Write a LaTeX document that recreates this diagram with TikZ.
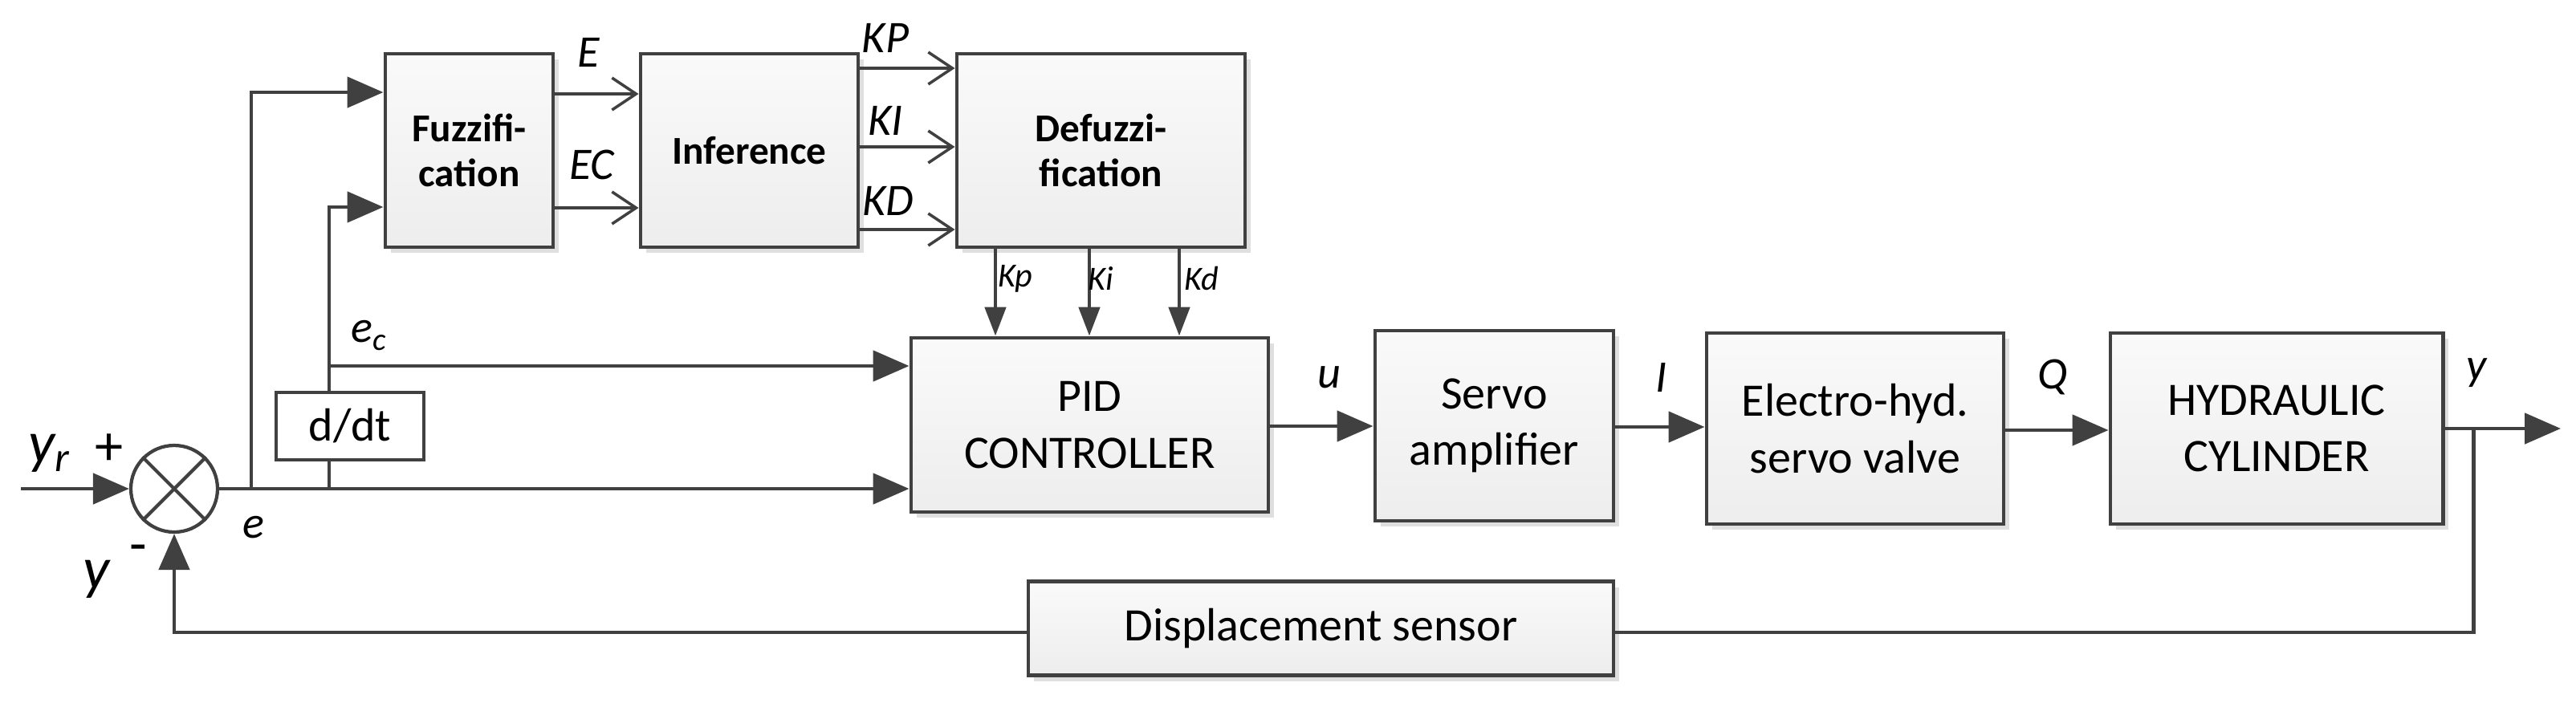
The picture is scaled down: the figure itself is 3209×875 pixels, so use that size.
\documentclass[tikz,border=0pt]{standalone}
\usepackage{fontspec}
\setmainfont{Carlito}
\usetikzlibrary{arrows.meta,shadows}
\definecolor{ln}{HTML}{404040}
\begin{document}
\begin{tikzpicture}[x=0.01cm,y=-0.01cm,
  line width=1.4pt, draw=ln,
  blk/.style={draw=ln,line width=1.4pt,top color=gray!4,bottom color=gray!14,inner sep=0pt,align=center,
    drop shadow={shadow xshift=0.07cm,shadow yshift=-0.07cm,fill=gray!25,opacity=1}},
  ar/.style={-{Triangle[length=0.45cm,width=0.38cm]}},
  sar/.style={-{Triangle[length=0.36cm,width=0.26cm]}},
  oar/.style={-{Straight Barb[length=0.3cm,width=0.4cm,line width=1pt]}},
  bf/.style={font=\fontsize{14}{16}\selectfont\bfseries},
  nf/.style={font=\fontsize{16.5}{20}\selectfont},
  lab/.style={font=\fontsize{16}{18}\selectfont\itshape,inner sep=0pt},
  slab/.style={font=\fontsize{12}{14}\selectfont\itshape,inner sep=0pt}]
\useasboundingbox (0,0) rectangle (3209,875);
% blocks
\node[blk,bf,minimum width=209\pgflinewidth/\pgflinewidth*0.01cm,minimum height=241*0.01cm] (fz) at (584.5,187.5) {Fuzzifi-\\cation};
\node[blk,bf,minimum width=271*0.01cm,minimum height=241*0.01cm] (inf) at (933.5,187.5) {Inference};
\node[blk,bf,minimum width=359*0.01cm,minimum height=241*0.01cm] (dfz) at (1371.5,187.5) {Defuzzi-\\fication};
\node[blk,nf,minimum width=445*0.01cm,minimum height=217*0.01cm] (pid) at (1357.5,529.5) {PID\\CONTROLLER};
\node[blk,nf,minimum width=297*0.01cm,minimum height=237*0.01cm] (sa) at (1861.5,530.5) {Servo\\amplifier};
\node[blk,nf,minimum width=370*0.01cm,minimum height=238*0.01cm] (ev) at (2311,534) {Electro-hyd.\\servo valve};
\node[blk,nf,minimum width=414*0.01cm,minimum height=238*0.01cm] (hc) at (2836,534) {HYDRAULIC\\CYLINDER};
\node[blk,nf,minimum width=729*0.01cm,minimum height=117*0.01cm] (ds) at (1645.5,783) {Displacement sensor};
\node[draw=ln,fill=white,nf,minimum width=184*0.01cm,minimum height=84*0.01cm,inner sep=0pt] (dd) at (436,531) {d/dt};
\node[draw=ln,fill=white,circle,minimum size=108*0.01cm,inner sep=0pt,line width=1.2pt] (s) at (217,609) {};
\draw[line width=1.2pt] (s.45)--(s.225) (s.135)--(s.315);
% coordinates
\coordinate (in) at (26,609);
\coordinate (eb) at (313,609);
\coordinate (db) at (410,609);
\coordinate (et) at (313,115);
\coordinate (dt) at (410,258);
\coordinate (ec) at (410,456);
\coordinate (yb) at (3081,534);
\coordinate (yo) at (3190,534);
\coordinate (yd) at (3081,788);
\coordinate (sb) at (217,788);
% connectors
\draw[ar] (in) -- (s.west);
\draw[ar] (s.east) -- (pid.west |- s.east);
\draw[ar] (eb) -- (et) -- (fz.west |- et);
\draw (db) -- (dd.south -| db);
\draw[ar] (dd.north -| db) -- (dt) -- (fz.west |- dt);
\draw[ar] (ec) -- (pid.west |- ec);
\draw[oar] (fz.east |- 0,117) -- (inf.west |- 0,117);
\draw[oar] (fz.east |- 0,259) -- (inf.west |- 0,259);
\draw[oar] (inf.east |- 0,85) -- (dfz.west |- 0,85);
\draw[oar] (inf.east |- 0,183) -- (dfz.west |- 0,183);
\draw[oar] (inf.east |- 0,286) -- (dfz.west |- 0,286);
\draw[sar] (dfz.south -| 1240,0) -- (pid.north -| 1240,0);
\draw[sar] (dfz.south -| 1357,0) -- (pid.north -| 1357,0);
\draw[sar] (dfz.south -| 1469,0) -- (pid.north -| 1469,0);
\draw[ar] (pid.east |- 0,531) -- (sa.west |- 0,531);
\draw[ar] (sa.east |- 0,532) -- (ev.west |- 0,532);
\draw[ar] (ev.east |- 0,536) -- (hc.west |- 0,536);
\draw[ar] (hc.east |- yo) -- (yo);
\draw (yb) -- (yd) -- (ds.east |- yd);
\draw[ar] (ds.west |- sb) -- (sb) -- (s.south);
% labels
\node[font=\fontsize{21}{24}\selectfont\itshape,inner sep=0pt] (lyr) at (62,565) {y\textsubscript{r}};
\node[font=\fontsize{20}{22}\selectfont,inner sep=0pt] (lp) at (136,560) {+};
\node[font=\fontsize{21}{24}\selectfont\itshape,inner sep=0pt] (ly) at (120,722) {y};
\node[font=\fontsize{20}{22}\selectfont,inner sep=0pt] (lm) at (172,690) {-};
\node[lab] (le) at (316,657) {e};
\node[lab] (lec) at (460,418) {e\textsubscript{c}};
\node[lab] (lE) at (733,65) {E};
\node[lab] (lEC) at (737,205) {EC};
\node[lab] (lKP) at (1103,47) {KP};
\node[lab] (lKI) at (1103,150) {KI};
\node[lab] (lKD) at (1106,250) {KD};
\node[slab] (lKp) at (1265,347) {Kp};
\node[slab] (lKi) at (1371,347) {Ki};
\node[slab] (lKd) at (1497,347) {Kd};
\node[lab] (lu) at (1656,470) {u};
\node[lab] (lI) at (2070,470) {I};
\node[lab] (lQ) at (2557,470) {Q};
\node[lab] (ly2) at (3085,465) {y};
\end{tikzpicture}
\end{document}
